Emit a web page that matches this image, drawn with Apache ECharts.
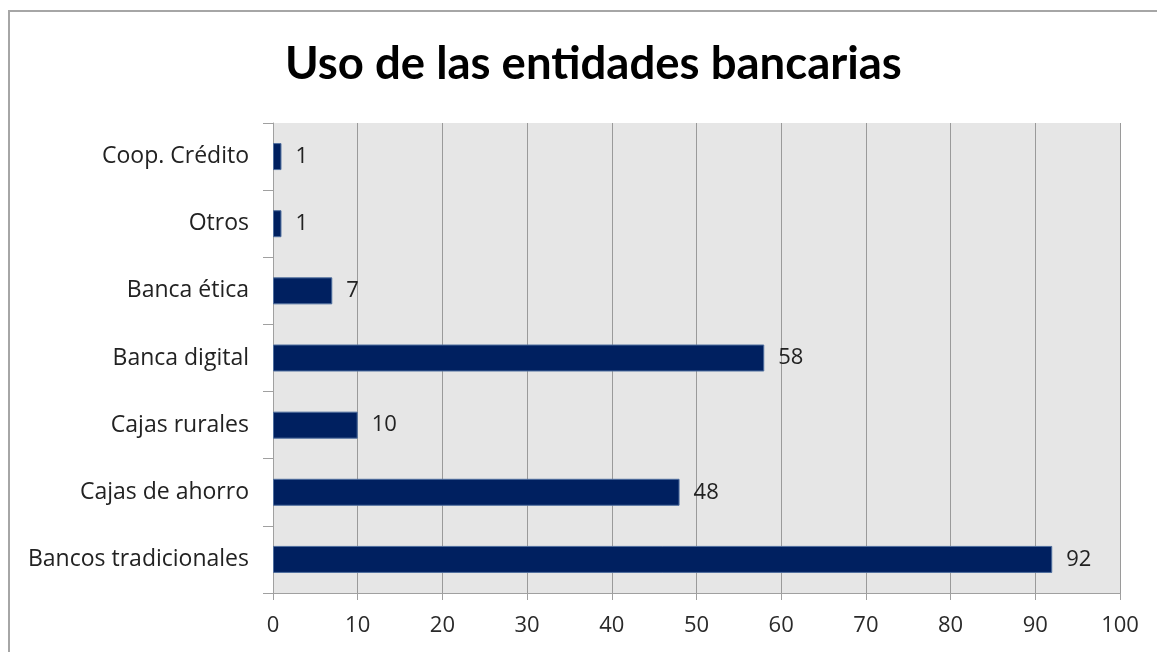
<!DOCTYPE html>
<html>
<head>
<meta charset="utf-8">
<script src="https://cdn.jsdelivr.net/npm/echarts@6/dist/echarts.min.js"></script>
<style>
  html, body { margin: 0; padding: 0; background: #ffffff; }
  #chart { width: 1157px; height: 652px; }
</style>
</head>
<body>
<div id="chart"></div>
<script>
// Categories listed bottom to top, as the category axis stacks them
const categories = ['Bancos tradicionales', 'Cajas de ahorro', 'Cajas rurales', 'Banca digital', 'Banca ética', 'Otros', 'Coop. Crédito'];
const values = [92, 48, 10, 58, 7, 1, 1];
const xTicks = [0, 10, 20, 30, 40, 50, 60, 70, 80, 90, 100];

const TITLE_FONT = 'Lato, "Open Sans", sans-serif';
const FONT = '"Open Sans", Lato, sans-serif';

const chart = echarts.init(document.getElementById('chart'), null, { renderer: 'canvas' });
chart.setOption({
  animation: false,
  backgroundColor: '#ffffff',
  title: {
    text: 'Uso de las entidades bancarias',
    left: 280,
    top: 36,
    textStyle: { fontFamily: TITLE_FONT, fontSize: 45.5, fontWeight: 'bold', color: '#000000' }
  },
  graphic: [{
    type: 'rect',
    shape: { x: 9, y: 11, width: 1160, height: 660 },
    style: { fill: 'none', stroke: '#a6a6a6', lineWidth: 2 },
    silent: true
  }],
  grid: {
    left: 273, right: 37, top: 123, bottom: 59,
    show: true, backgroundColor: '#e6e6e6', borderWidth: 0
  },
  xAxis: {
    type: 'value',
    min: xTicks[0],
    max: xTicks[xTicks.length - 1],
    interval: 10,
    axisLine: { show: true, lineStyle: { color: '#a0a0a0', width: 1 } },
    axisTick: { show: true, length: 7, lineStyle: { color: '#a0a0a0' } },
    axisLabel: { fontFamily: FONT, fontSize: 22, color: '#2a2a2a', margin: 22 },
    splitLine: { show: true, lineStyle: { color: '#9a9a9a', width: 1 } }
  },
  yAxis: {
    type: 'category',
    data: categories,
    axisLine: { show: true, lineStyle: { color: '#a0a0a0', width: 1 } },
    axisTick: { show: true, length: 10, lineStyle: { color: '#a0a0a0' } },
    axisLabel: { fontFamily: FONT, fontSize: 23, color: '#222222', margin: 24, padding: [4, 0, 0, 0] },
    splitLine: { show: false }
  },
  series: [{
    type: 'bar',
    data: values,
    barWidth: 27,
    itemStyle: { color: '#002060', borderColor: '#4f6e9e', borderWidth: 1 },
    label: {
      show: true,
      position: 'right',
      distance: 14,
      fontFamily: FONT,
      fontSize: 22,
      color: '#222222',
      padding: [4, 0, 0, 0]
    }
  }]
});
</script>
</body>
</html>
